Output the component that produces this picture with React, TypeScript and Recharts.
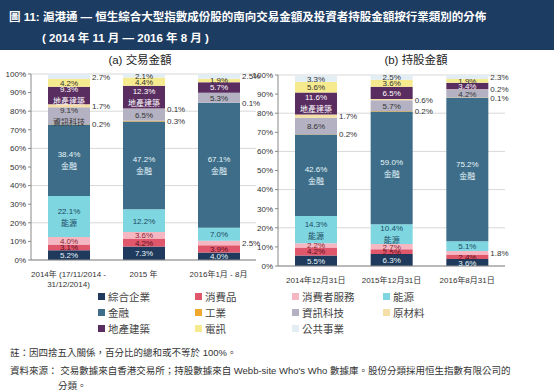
import { BarChart, Bar, XAxis, YAxis, CartesianGrid, LabelList } from 'recharts';

const sectors = ['綜合企業', '消費品', '消費者服務', '能源', '金融', '工業', '資訊科技', '原材料', '地產建築', '電訊', '公共事業'];

const tradePeriods = ['2014年 (17/11/2014 -\n31/12/2014)', '2015 年', '2016年1月 - 8月'];
const holdPeriods = ['2014年12月31日', '2015年12月31日', '2016年8月31日'];
const yTicks = [0, 10, 20, 30, 40, 50, 60, 70, 80, 90, 100];

// (a) trading value share, %, one value per period
const tradeConglomerates = [5.2, 7.3, 4.0];
const tradeConsumerGoods = [3.1, 4.2, 3.9];
const tradeConsumerServices = [4.0, 3.6, 2.5];
const tradeEnergy = [22.1, 12.2, 7.0];
const tradeFinancials = [38.4, 47.2, 67.1];
const tradeIndustrials = [0.2, 0.3, 0.1];
const tradeIT = [9.1, 6.5, 5.3];
const tradeMaterials = [1.7, 0.1, 0.0];
const tradeProperties = [9.3, 12.3, 5.7];
const tradeTelecom = [4.2, 4.4, 1.9];
const tradeUtilities = [2.7, 2.1, 2.5];

// (b) holding value share, %
const holdConglomerates = [5.5, 6.3, 3.6];
const holdConsumerGoods = [4.2, 2.5, 2.4];
const holdConsumerServices = [2.2, 2.7, 1.8];
const holdEnergy = [14.3, 10.4, 5.1];
const holdFinancials = [42.6, 59.0, 75.2];
const holdIndustrials = [0.2, 0.2, 0.1];
const holdIT = [8.6, 5.7, 4.2];
const holdMaterials = [1.7, 0.6, 0.2];
const holdProperties = [11.6, 6.5, 3.4];
const holdTelecom = [5.6, 3.6, 1.9];
const holdUtilities = [3.3, 2.5, 2.3];

const tradeSeries = [tradeConglomerates, tradeConsumerGoods, tradeConsumerServices, tradeEnergy, tradeFinancials, tradeIndustrials, tradeIT, tradeMaterials, tradeProperties, tradeTelecom, tradeUtilities];
const holdSeries = [holdConglomerates, holdConsumerGoods, holdConsumerServices, holdEnergy, holdFinancials, holdIndustrials, holdIT, holdMaterials, holdProperties, holdTelecom, holdUtilities];

// which segments get the sector name under the %, and which are labelled outside the bar
const tradeNamed: Record<number, number[]> = { 3: [0], 4: [0, 1, 2], 6: [0], 8: [0, 1] };
const tradeOutside: Record<number, number[]> = { 2: [2], 5: [0, 1, 2], 7: [0, 1, 2], 10: [0, 2] };
const holdNamed: Record<number, number[]> = { 3: [0, 1], 4: [0, 1, 2], 8: [0] };
const holdOutside: Record<number, number[]> = { 2: [2], 5: [0, 1, 2], 7: [0, 1, 2], 10: [2] };

const colors = ['#1f3a5c', '#e0566b', '#f5b8c3', '#7dd6e0', '#3d6d88', '#f0a92e', '#b4b2c2', '#f5dfa6', '#5a2d60', '#f6ea8e', '#e2edf4'];
const textColors = ['#e6f6fa', '#5b1020', '#8a1f30', '#1d4a63', '#e6f6fa', '#333', '#333', '#333', '#ffffff', '#333', '#333'];

const FONT = "'Liberation Sans', Arial, 'Noto Sans CJK TC', sans-serif";

function buildRows(periods: string[], series: number[][]) {
  return periods.map((p, i) => {
    const row: Record<string, any> = { period: p };
    series.forEach((s, k) => {
      row['s' + k] = s[i];
    });
    return row;
  });
}

const segLabel = (k: number, named: Record<number, number[]>, outside: Record<number, number[]>) => (props: any) => {
  const { x, y, width, height, value, index } = props;
  const cx = x + width / 2;
  const cy = y + height / 2;
  const txt = `${Number(value).toFixed(1)}%`;
  if ((outside[k] || []).includes(index)) {
    return (
      <text x={x + width + 2} y={cy} dy={3} fontSize={8} fill="#333" fontFamily={FONT}>
        {txt}
      </text>
    );
  }
  if (value < 1) return null;
  if ((named[k] || []).includes(index)) {
    return (
      <g fontFamily={FONT} fontSize={8} fill={textColors[k]} textAnchor="middle">
        <text x={cx} y={cy - 3}>{txt}</text>
        <text x={cx} y={cy + 9}>{sectors[k]}</text>
      </g>
    );
  }
  return (
    <text x={cx} y={cy} dy={3} fontFamily={FONT} fontSize={8} fill={textColors[k]} textAnchor="middle">
      {txt}
    </text>
  );
};

const PeriodTick = ({ x, y, payload }: any) => {
  const lines = String(payload.value).split('\n');
  return (
    <g>
      {lines.map((l, i) => (
        <text key={i} x={x} y={y + 9 + i * 10} textAnchor="middle" fontSize={8} fill="#333" fontFamily={FONT}>
          {l}
        </text>
      ))}
    </g>
  );
};

function StackChart({ periods, series, named, outside, width, height }: any) {
  const data = buildRows(periods, series);
  return (
    <BarChart width={width} height={height} data={data} margin={{ top: 10, right: 22, left: 0, bottom: 0 }} barSize={42}>
      <CartesianGrid vertical={false} stroke="#d8d8d8" />
      <XAxis
        dataKey="period"
        height={32}
        interval={0}
        tick={<PeriodTick />}
        axisLine={{ stroke: '#888' }}
        tickLine={false}
      />
      <YAxis
        width={31}
        domain={[0, 100]}
        ticks={yTicks}
        allowDataOverflow
        tickFormatter={(v) => `${v}%`}
        tick={{ fontSize: 8, fill: '#333', fontFamily: FONT }}
        axisLine={{ stroke: '#888' }}
        tickLine={{ stroke: '#888' }}
        tickSize={3}
      />
      {sectors.map((name, k) => (
        <Bar key={name} dataKey={'s' + k} name={name} stackId="a" fill={colors[k]} isAnimationActive={false}>
          <LabelList dataKey={'s' + k} content={segLabel(k, named, outside)} />
        </Bar>
      ))}
    </BarChart>
  );
}

export default function App() {
  const legendX = [98, 195, 292, 383];
  const legendY = [296, 312, 328];
  return (
    <div style={{ position: 'absolute', left: 0, top: 0, width: 554, height: 390, background: '#fff', fontFamily: FONT, overflow: 'hidden' }}>
      <div style={{ position: 'absolute', left: 0, top: 0, width: 554, height: 50, background: '#1d3c62', color: '#fff', fontWeight: 'bold', fontSize: 11.5 }}>
        <div style={{ position: 'absolute', left: 9, top: 8, whiteSpace: 'nowrap' }}>
          圖 11:  滬港通 — 恒生綜合大型指數成份股的南向交易金額及投資者持股金額按行業類別的分佈
        </div>
        <div style={{ position: 'absolute', left: 42, top: 29, whiteSpace: 'nowrap' }}>( 2014 年 11 月 — 2016 年 8 月 )</div>
      </div>
      <div style={{ position: 'absolute', left: 90, width: 100, textAlign: 'center', top: 51, fontSize: 11.5, color: '#222' }}>(a) 交易金額</div>
      <div style={{ position: 'absolute', left: 366, width: 100, textAlign: 'center', top: 51, fontSize: 11.5, color: '#222' }}>(b) 持股金額</div>

      <div style={{ position: 'absolute', left: 0, top: 64 }}>
        <StackChart periods={tradePeriods} series={tradeSeries} named={tradeNamed} outside={tradeOutside} width={278} height={228} />
      </div>
      <div style={{ position: 'absolute', left: 247, top: 65 }}>
        <StackChart periods={holdPeriods} series={holdSeries} named={holdNamed} outside={holdOutside} width={280} height={233} />
      </div>

      {sectors.map((name, k) => (
        <div
          key={name}
          style={{ position: 'absolute', left: legendX[k % 4], top: legendY[Math.floor(k / 4)] - 7, display: 'flex', alignItems: 'center', fontSize: 10.5, color: '#444', whiteSpace: 'nowrap', height: 14 }}
        >
          <span style={{ display: 'inline-block', width: 7, height: 7, background: colors[k], marginRight: 3 }} />
          {name}
        </div>
      ))}

      <div style={{ position: 'absolute', left: 10, top: 345, fontSize: 9.5, color: '#333', whiteSpace: 'nowrap' }}>
        註：因四捨五入關係，百分比的總和或不等於 100%。
      </div>
      <div style={{ position: 'absolute', left: 10, top: 363, fontSize: 9.5, color: '#333', whiteSpace: 'nowrap' }}>
        資料來源：  交易數據來自香港交易所；持股數據來自 Webb-site Who's Who 數據庫。股份分類採用恒生指數有限公司的
      </div>
      <div style={{ position: 'absolute', left: 58, top: 378, fontSize: 9.5, color: '#333', whiteSpace: 'nowrap' }}>分類。</div>
    </div>
  );
}
